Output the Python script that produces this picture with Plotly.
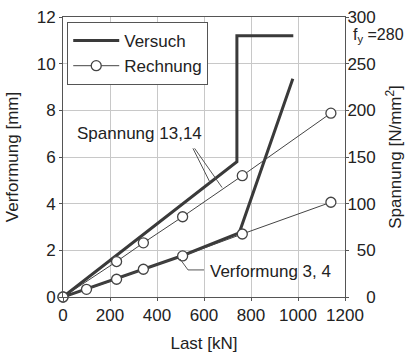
import plotly.graph_objects as go

# ---- data ----
last_rechnung_verf = [0, 100, 228, 342, 509, 763, 1140]
verf_rechnung = [0, 0.33, 0.76, 1.19, 1.76, 2.70, 4.06]

last_rechnung_sp = [0, 228, 342, 509, 763, 1140]
sp_rechnung = [0, 38, 58, 86, 130, 197]

last_versuch_verf = [0, 230, 510, 750, 978]
verf_versuch = [0, 0.8, 1.78, 2.75, 9.35]

last_versuch_sp = [0, 740, 740, 980]
sp_versuch = [0, 145, 280, 280]

x_ticks = [0, 200, 400, 600, 800, 1000, 1200]
y_ticks = [0, 2, 4, 6, 8, 10, 12]
y2_ticks = [0, 50, 100, 150, 200, 250, 300]
fy = 280

FONT = "Liberation Sans, Arial, sans-serif"
TXT = "#222"
THICK = "#3a3a3a"
THIN = "#444"

fig = go.Figure()

# Versuch (thick)
fig.add_trace(go.Scatter(x=last_versuch_sp, y=sp_versuch, yaxis="y2", mode="lines",
                         line=dict(color=THICK, width=3), name="Versuch",
                         legendgroup="v", showlegend=True))
fig.add_trace(go.Scatter(x=last_versuch_verf, y=verf_versuch, mode="lines",
                         line=dict(color=THICK, width=3), name="Versuch",
                         legendgroup="v", showlegend=False))
# Rechnung (thin + circles)
marker = dict(symbol="circle", size=10, color="white", line=dict(color=THIN, width=1.3))
fig.add_trace(go.Scatter(x=last_rechnung_sp, y=sp_rechnung, yaxis="y2", mode="lines+markers",
                         line=dict(color=THIN, width=1), marker=marker, name="Rechnung",
                         legendgroup="r", showlegend=True, cliponaxis=False))
fig.add_trace(go.Scatter(x=last_rechnung_verf, y=verf_rechnung, mode="lines+markers",
                         line=dict(color=THIN, width=1), marker=marker, name="Rechnung",
                         legendgroup="r", showlegend=False, cliponaxis=False))

# leader lines
lead = dict(color="#555", width=1)
fig.add_shape(type="line", xref="x", yref="y", x0=553, y0=6.37, x1=626, y1=4.9, line=lead)
fig.add_shape(type="line", xref="x", yref="y", x0=560, y0=6.37, x1=677, y1=4.69, line=lead)
fig.add_shape(type="path", xref="x", yref="y",
              path="M 498,1.63 L 532,1.16 L 600,1.16", line=lead)

fig.add_annotation(x=325, y=7.0, xref="x", yref="y", text="Spannung 13,14",
                   showarrow=False, font=dict(size=17, color=TXT, family=FONT))
fig.add_annotation(x=881, y=1.08, xref="x", yref="y", text="Verformung 3, 4",
                   showarrow=False, font=dict(size=17, color=TXT, family=FONT))
fig.add_annotation(x=1.02, y=fy, xref="paper", yref="y2", xanchor="left", yanchor="middle",
                   text="f<sub>y</sub> =280", showarrow=False,
                   font=dict(size=16, color=TXT, family=FONT))

axis_common = dict(showline=True, linecolor="#555", linewidth=1, mirror=True,
                   ticks="outside", ticklen=3, tickcolor="#555", automargin=False,
                   showgrid=True, gridcolor="#c8c8c8", gridwidth=1, zeroline=False,
                   tickfont=dict(size=17, color=TXT, family=FONT))

fig.update_layout(
    width=412, height=355,
    margin=dict(l=63, r=67, t=17, b=58, autoexpand=False),
    paper_bgcolor="white", plot_bgcolor="white",
    font=dict(family=FONT, size=17, color=TXT),
    xaxis=dict(range=[0, 1200], tickvals=x_ticks,
               title=dict(text="Last [kN]", font=dict(size=17), standoff=12), **axis_common),
    yaxis=dict(range=[0, 12], tickvals=y_ticks,
               title=dict(text="Verformung [mm]", font=dict(size=17), standoff=13), **axis_common),
    yaxis2=dict(range=[0, 300], overlaying="y", side="right", tickvals=y2_ticks,
                ticktext=[str(v).rjust(3, "\u2007") for v in y2_ticks],
                showline=False, showgrid=False, ticks="outside", ticklen=3, tickcolor="#555",
                ticklabelstandoff=-5,
                zeroline=False, automargin=False, tickfont=dict(size=17, color=TXT, family=FONT),
                title=dict(text="Spannung [N/mm<sup>2</sup>]", font=dict(size=17), standoff=14)),
    legend=dict(x=0.015, y=0.982, xanchor="left", yanchor="top",
                bgcolor="white", bordercolor="#555", borderwidth=1,
                font=dict(size=17, color=TXT, family=FONT), itemwidth=46,
                tracegroupgap=0),
    showlegend=True,
)

fig.write_html("out.html", post_script="document.body.style.margin='0';",
               config={"displayModeBar": False})
